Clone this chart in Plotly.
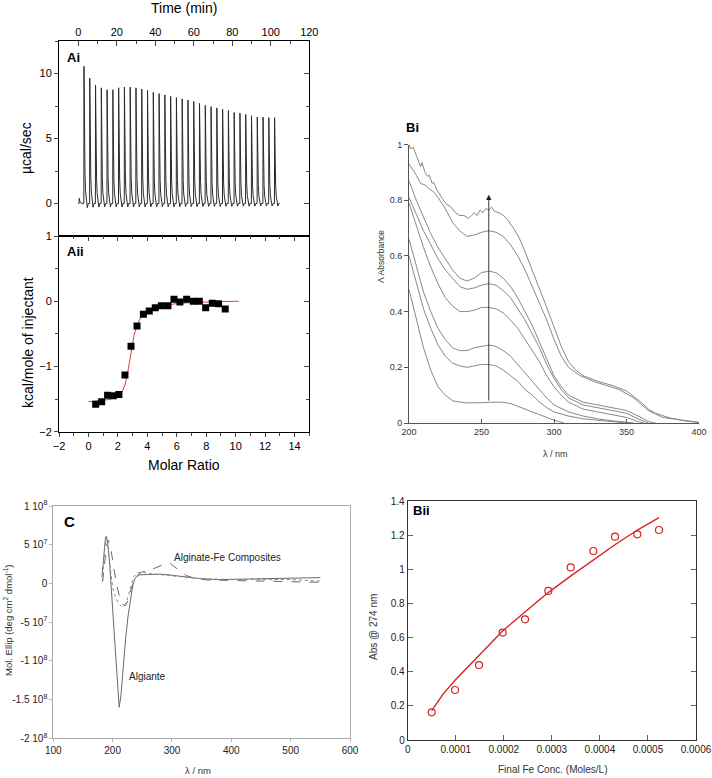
import plotly.graph_objects as go

W, H = 712, 778

# ── Ai: raw ITC thermogram ────────────────────────────────────
FIRST_INJ_TIME = 0.4
FIRST_INJ_PEAK = 0.4
INJ_TIMES = [2.9, 5.9, 8.9, 11.9, 14.9, 17.9, 20.9, 23.9, 26.9, 29.9,
             32.9, 35.9, 38.9, 41.9, 44.9, 47.9, 50.9, 53.9, 56.9, 59.9,
             62.9, 65.9, 68.9, 71.9, 74.9, 77.9, 80.9, 83.9, 86.9, 89.9,
             92.9, 95.9, 98.9, 101.9]
INJ_PEAKS = [10.55, 9.65, 9.1, 8.9, 8.75, 8.75, 8.9, 8.95, 8.95, 8.9,
             8.8, 8.7, 8.55, 8.45, 8.35, 8.25, 8.15, 8.05, 7.95, 7.85,
             7.7, 7.55, 7.45, 7.35, 7.25, 7.15, 7.0, 6.95, 6.85, 6.75,
             6.65, 6.65, 6.6, 6.6]
# shape of one injection peak (minutes after start, fraction of peak)
PEAK_DT = [0.0, 0.08, 0.3, 0.6, 0.9, 1.3, 1.8, 2.3]
PEAK_REL = [0.0, 1.0, 0.5, 0.22, 0.09, 0.03, -0.03, 0.0]
BASE_START, BASE_END = 0.0, 104.7

# ── Aii: integrated heats ─────────────────────────────────────
MOLAR = [0.49, 0.90, 1.30, 1.69, 2.07, 2.48, 2.89, 3.30, 3.73, 4.13, 4.54,
         4.95, 5.40, 5.81, 6.21, 6.67, 7.12, 7.53, 7.96, 8.41, 8.84, 9.29]
HEAT = [-1.58, -1.54, -1.44, -1.45, -1.43, -1.13, -0.69, -0.38, -0.20, -0.15,
        -0.10, -0.07, -0.07, 0.03, -0.01, 0.03, 0.0, 0.0, -0.10, -0.03, -0.04, -0.12]
FIT_X = [0.0, 0.5, 1.0, 1.5, 2.0, 2.3, 2.5, 2.7, 2.9, 3.1, 3.3, 3.6, 4.0,
         4.5, 5.0, 6.0, 7.0, 8.0, 9.0, 10.2]
FIT_Y = [-1.54, -1.535, -1.52, -1.5, -1.45, -1.38, -1.27, -1.05, -0.78, -0.52,
         -0.36, -0.23, -0.15, -0.10, -0.07, -0.035, -0.02, -0.01, -0.005, 0.0]

# ── Bi: UV-vis spectra ───────────────────────────────────────
S1_X = [200, 201, 203, 205, 206, 208, 209, 211, 213, 214, 216, 217, 219, 220,
        223, 226, 229, 232, 235, 238, 241, 243, 245, 247, 249, 251, 253, 255,
        257, 259, 262, 265, 268, 272, 276, 280, 285, 290, 295, 300, 305, 310,
        315, 320, 330, 340, 350, 355, 360, 365, 370, 380, 390, 400]
S1_Y = [1.0, 0.985, 0.99, 0.96, 0.95, 0.92, 0.935, 0.9, 0.885, 0.89, 0.86,
        0.865, 0.84, 0.83, 0.805, 0.785, 0.775, 0.755, 0.745, 0.745, 0.735,
        0.745, 0.755, 0.745, 0.765, 0.755, 0.77, 0.765, 0.775, 0.76, 0.755,
        0.745, 0.73, 0.70, 0.665, 0.615, 0.55, 0.485, 0.415, 0.345, 0.275,
        0.22, 0.19, 0.17, 0.15, 0.135, 0.115, 0.095, 0.075, 0.05, 0.035,
        0.018, 0.008, 0.002]
S2_X = [200, 202, 205, 208, 211, 214, 217, 220, 225, 230, 235, 240, 245, 250,
        255, 260, 265, 270, 275, 280, 285, 290, 295, 300, 305, 310, 318, 327,
        336, 345, 355, 365, 375, 390, 400]
S2_Y = [0.93, 0.915, 0.89, 0.86, 0.855, 0.84, 0.83, 0.81, 0.77, 0.72, 0.69,
        0.67, 0.675, 0.685, 0.69, 0.685, 0.67, 0.64, 0.60, 0.55, 0.49, 0.43,
        0.37, 0.30, 0.24, 0.20, 0.17, 0.15, 0.135, 0.12, 0.09, 0.045, 0.02,
        0.008, 0.002]
S3_X = [200, 205, 210, 215, 220, 225, 230, 235, 240, 245, 250, 255, 260, 265,
        270, 275, 280, 285, 290, 295, 300, 305, 310, 320, 330, 340, 350, 360,
        365, 370]
S3_Y = [0.87, 0.80, 0.74, 0.68, 0.63, 0.59, 0.55, 0.52, 0.51, 0.52, 0.54,
        0.545, 0.54, 0.52, 0.49, 0.45, 0.40, 0.35, 0.29, 0.23, 0.17, 0.13,
        0.10, 0.075, 0.065, 0.055, 0.045, 0.02, 0.005, 0.0]
S4_X = [200, 205, 210, 215, 220, 225, 230, 235, 240, 245, 250, 255, 260, 265,
        270, 275, 280, 285, 290, 295, 300, 305, 310, 320, 330, 340, 350, 360, 365]
S4_Y = [0.81, 0.75, 0.69, 0.64, 0.59, 0.55, 0.52, 0.49, 0.48, 0.485, 0.495,
        0.50, 0.495, 0.475, 0.45, 0.41, 0.37, 0.32, 0.27, 0.21, 0.16, 0.12,
        0.09, 0.065, 0.055, 0.045, 0.035, 0.01, 0.0]
S5_X = [200, 205, 210, 215, 220, 225, 230, 235, 240, 245, 250, 255, 260, 265,
        270, 275, 280, 285, 290, 295, 300, 305, 310, 320, 330, 340, 350, 358, 362]
S5_Y = [0.79, 0.71, 0.63, 0.56, 0.50, 0.45, 0.42, 0.40, 0.40, 0.405, 0.415,
        0.415, 0.41, 0.395, 0.37, 0.34, 0.30, 0.26, 0.22, 0.17, 0.13, 0.10,
        0.075, 0.05, 0.04, 0.03, 0.02, 0.005, 0.0]
S6_X = [200, 205, 210, 215, 220, 225, 230, 235, 240, 245, 250, 255, 260, 265,
        270, 275, 280, 285, 290, 295, 300, 310, 320, 330, 340, 350, 355]
S6_Y = [0.66, 0.56, 0.47, 0.40, 0.34, 0.30, 0.27, 0.26, 0.26, 0.27, 0.275,
        0.28, 0.275, 0.26, 0.24, 0.21, 0.18, 0.15, 0.12, 0.09, 0.065, 0.04,
        0.025, 0.015, 0.008, 0.002, 0.0]
S7_X = [200, 205, 210, 215, 220, 225, 230, 235, 240, 245, 250, 255, 260, 265,
        270, 275, 280, 285, 290, 295, 300, 310, 320, 330, 340, 350]
S7_Y = [0.60, 0.50, 0.41, 0.34, 0.28, 0.24, 0.215, 0.205, 0.20, 0.205, 0.21,
        0.21, 0.205, 0.19, 0.17, 0.15, 0.12, 0.10, 0.075, 0.055, 0.04, 0.025,
        0.015, 0.01, 0.005, 0.0]
S8_X = [200, 205, 210, 215, 220, 225, 230, 235, 240, 250, 255, 260, 265, 270,
        275, 280, 285, 290, 295, 300, 305, 307]
S8_Y = [0.48, 0.37, 0.27, 0.19, 0.13, 0.10, 0.08, 0.075, 0.072, 0.073, 0.075,
        0.075, 0.074, 0.07, 0.06, 0.05, 0.04, 0.03, 0.02, 0.01, 0.003, 0.0]
ARROW_X, ARROW_Y0, ARROW_Y1 = 255, 0.075, 0.82

# ── C: CD spectra ────────────────────────────────────────────
ALG_X = [182, 184, 186, 188, 189.5, 192, 195, 198, 202, 205, 208, 211, 214,
         218, 222, 226, 230, 234, 238, 245, 260, 280, 295, 310, 330, 350, 380,
         420, 460, 500, 530, 550]
ALG_Y = [0.8e7, 2.5e7, 4.8e7, 6.0e7, 6.1e7, 5.0e7, 2.5e7, -1e7, -5e7, -9e7,
         -1.3e8, -1.6e8, -1.45e8, -1.05e8, -7e7, -4.2e7, -2e7, -0.2e7, 0.7e7,
         1.1e7, 1.15e7, 1.2e7, 1.1e7, 0.95e7, 0.75e7, 0.6e7, 0.5e7, 0.55e7,
         0.6e7, 0.7e7, 0.7e7, 0.75e7]
FE_X = [183, 186, 190, 193, 197, 202, 207, 212, 217, 221, 226, 231, 236, 242,
        250, 260, 270, 280, 290, 297, 305, 315, 325, 340, 360, 400, 450, 500, 550]
FE_Y = [0.2e7, 2.5e7, 5.0e7, 5.6e7, 4.5e7, 2.0e7, -0.3e7, -1.8e7, -2.7e7,
        -2.9e7, -2.2e7, -0.8e7, 0.3e7, 1.1e7, 1.5e7, 1.6e7, 1.9e7, 2.3e7,
        2.6e7, 2.6e7, 2.1e7, 1.5e7, 1.0e7, 0.6e7, 0.45e7, 0.4e7, 0.35e7,
        0.25e7, 0.15e7]
FE2_X = [183, 186, 189, 192, 196, 200, 205, 210, 215, 220, 225, 230, 235, 242,
         250, 258, 270, 290, 320, 350, 400, 450, 500, 550]
FE2_Y = [0.3e7, 4.0e7, 6.0e7, 5.0e7, 2.0e7, -0.5e7, -1.8e7, -2.6e7, -3.0e7,
         -2.9e7, -2.0e7, -0.5e7, 0.8e7, 1.4e7, 1.5e7, 1.3e7, 1.2e7, 1.1e7,
         0.8e7, 0.6e7, 0.5e7, 0.5e7, 0.5e7, 0.3e7]
C_YTICKS = [1e8, 5e7, 0, -5e7, -1e8, -1.5e8, -2e8]
C_YTEXT = ['1 10<sup>8</sup>', '5 10<sup>7</sup>', '0', '-5 10<sup>7</sup>',
           '-1 10<sup>8</sup>', '-1.5 10<sup>8</sup>', '-2 10<sup>8</sup>']

# ── Bii: absorbance vs Fe concentration ──────────────────────
FE_CONC = [0.0000499, 0.0000985, 0.0001484, 0.0001977, 0.0002442, 0.0002927,
           0.0003392, 0.0003864, 0.0004315, 0.0004779, 0.0005230]
ABS274 = [0.162, 0.293, 0.439, 0.629, 0.707, 0.873, 1.011, 1.107, 1.191,
          1.205, 1.230]
BFIT_X = [0.00005, 0.000074, 0.0000985, 0.000148, 0.000198, 0.000244,
          0.000293, 0.000339, 0.000386, 0.000432, 0.000478, 0.000523]
BFIT_Y = [0.172, 0.27, 0.35, 0.495, 0.64, 0.75, 0.865, 0.96, 1.055, 1.145,
          1.23, 1.302]
BII_XTICKS = [0, 0.0001, 0.0002, 0.0003, 0.0004, 0.0005, 0.0006]
BII_XTEXT = ['0', '0.0001', '0.0002', '0.0003', '0.0004', '0.0005', '0.0006']

FONT = 'Liberation Sans, Arial, sans-serif'
RED = '#d62424'
TICKBLUE = '#5a5aa8'


def dom_x(a, b):
    return [a / W, b / W]


def dom_y(top, bottom):
    return [1 - bottom / H, 1 - top / H]


# build the thermogram trace from the injection list
tx, ty = [BASE_START], [0.0]
for t, h in [(FIRST_INJ_TIME, FIRST_INJ_PEAK)] + list(zip(INJ_TIMES, INJ_PEAKS)):
    for dt, r in zip(PEAK_DT, PEAK_REL):
        tx.append(t + dt)
        ty.append(h * r)
tx.append(BASE_END)
ty.append(0.0)

fig = go.Figure()

fig.add_trace(go.Scatter(x=tx, y=ty, mode='lines', xaxis='x', yaxis='y',
                         line=dict(color='#2a2a2a', width=1), showlegend=False))
fig.add_trace(go.Scatter(x=[None], y=[None], xaxis='x', yaxis='y6', showlegend=False))

fig.add_trace(go.Scatter(x=FIT_X, y=FIT_Y, mode='lines', xaxis='x2', yaxis='y2',
                         line=dict(color='#e04040', width=1), showlegend=False))
fig.add_trace(go.Scatter(x=MOLAR, y=HEAT, mode='markers', xaxis='x2', yaxis='y2',
                         marker=dict(symbol='square', size=7, color='black'),
                         showlegend=False))
fig.add_trace(go.Scatter(x=[None], y=[None], xaxis='x6', yaxis='y2', showlegend=False))
fig.add_trace(go.Scatter(x=[None], y=[None], xaxis='x2', yaxis='y7', showlegend=False))

for sx, sy in [(S1_X, S1_Y), (S2_X, S2_Y), (S3_X, S3_Y), (S4_X, S4_Y),
               (S5_X, S5_Y), (S6_X, S6_Y), (S7_X, S7_Y), (S8_X, S8_Y)]:
    fig.add_trace(go.Scatter(x=sx, y=sy, mode='lines', xaxis='x3', yaxis='y3',
                             line=dict(color='#7a7a7a', width=0.9), showlegend=False))

fig.add_trace(go.Scatter(x=ALG_X, y=ALG_Y, mode='lines', xaxis='x4', yaxis='y4',
                         line=dict(color='#6a6a6a', width=1), showlegend=False))
fig.add_trace(go.Scatter(x=FE_X, y=FE_Y, mode='lines', xaxis='x4', yaxis='y4',
                         line=dict(color='#6a6a6a', width=1, dash='dash'),
                         showlegend=False))
fig.add_trace(go.Scatter(x=FE2_X, y=FE2_Y, mode='lines', xaxis='x4', yaxis='y4',
                         line=dict(color='#8a8a8a', width=1, dash='dot'),
                         showlegend=False))

fig.add_trace(go.Scatter(x=BFIT_X, y=BFIT_Y, mode='lines', xaxis='x5', yaxis='y5',
                         line=dict(color=RED, width=1.4), showlegend=False))
fig.add_trace(go.Scatter(x=FE_CONC, y=ABS274, mode='markers', xaxis='x5', yaxis='y5',
                         marker=dict(symbol='circle-open', size=7, color=RED,
                                     line=dict(width=1.2, color=RED)),
                         showlegend=False))

tickfont_a = dict(family=FONT, size=11, color='black')
base = dict(showgrid=False, zeroline=False, automargin=False)

ai_x = dom_x(59, 309.3)
ai_y = dom_y(41, 236)
aii_y = dom_y(236, 431.7)

fig.update_layout(
    width=W, height=H,
    margin=dict(l=0, r=0, t=0, b=0, autoexpand=False),
    paper_bgcolor='white', plot_bgcolor='white',
    font=dict(family=FONT),
    # Ai
    xaxis=dict(base, domain=ai_x, anchor='y', side='top', range=[-10, 120],
               tickvals=[0, 20, 40, 60, 80, 100, 120], ticks='inside', ticklen=5,
               minor=dict(ticks='inside', ticklen=3, dtick=10, tick0=0),
               showline=True, mirror=True, linecolor='black', linewidth=1,
               tickfont=tickfont_a),
    yaxis=dict(base, domain=ai_y, anchor='x', range=[-2.5, 12.5],
               tickvals=[0, 5, 10], ticks='outside', ticklen=4,
               minor=dict(ticks='outside', ticklen=3, dtick=2.5, tick0=0),
               showline=True, mirror=True, linecolor='black', linewidth=1,
               tickfont=tickfont_a),
    yaxis6=dict(base, overlaying='y', side='right', anchor='x', range=[-2.5, 12.5],
                tickvals=[0, 5, 10], ticks='inside', ticklen=5, showticklabels=False,
                minor=dict(ticks='inside', ticklen=3, dtick=2.5, tick0=0),
                showline=False),
    # Aii
    xaxis2=dict(base, domain=ai_x, anchor='y2', range=[-2, 15],
                tickvals=[-2, 0, 2, 4, 6, 8, 10, 12, 14], ticks='outside', ticklen=4,
                minor=dict(ticks='outside', ticklen=3, dtick=1, tick0=0),
                showline=True, mirror=True, linecolor='black', linewidth=1,
                tickfont=tickfont_a),
    xaxis6=dict(base, overlaying='x2', side='top', anchor='y2', range=[-2, 15],
                tickvals=[-2, 0, 2, 4, 6, 8, 10, 12, 14], ticks='inside', ticklen=5,
                minor=dict(ticks='inside', ticklen=3, dtick=1, tick0=0),
                showticklabels=False, showline=False),
    yaxis2=dict(base, domain=aii_y, anchor='x2', range=[-2, 1],
                tickvals=[-2, -1, 0, 1], ticks='outside', ticklen=4,
                minor=dict(ticks='outside', ticklen=3, dtick=0.5, tick0=0),
                showline=True, mirror=True, linecolor='black', linewidth=1,
                tickfont=tickfont_a),
    yaxis7=dict(base, overlaying='y2', side='right', anchor='x2', range=[-2, 1],
                tickvals=[-2, -1, 0, 1], ticks='inside', ticklen=5,
                minor=dict(ticks='inside', ticklen=3, dtick=0.5, tick0=0),
                showticklabels=False, showline=False),
    # Bi
    xaxis3=dict(base, domain=dom_x(409, 699), anchor='y3', range=[200, 400],
                tickvals=[200, 250, 300, 350, 400], ticks='inside', ticklen=4,
                tickcolor='#555', showline=True, linecolor='#555', linewidth=1,
                tickfont=dict(family=FONT, size=9, color='#333')),
    yaxis3=dict(base, domain=dom_y(144.5, 423), anchor='x3', range=[0, 1],
                tickvals=[0, 0.2, 0.4, 0.6, 0.8, 1], ticks='outside', ticklen=4,
                tickcolor='#555', showline=True, linecolor='#555', linewidth=1,
                tickfont=dict(family=FONT, size=9, color='#333')),
    # C
    xaxis4=dict(base, domain=dom_x(53.3, 350), anchor='y4', range=[100, 600],
                tickvals=[100, 200, 300, 400, 500, 600], ticks='outside', ticklen=3,
                tickcolor='#bbb', showline=True, mirror=True, linecolor='#aaa',
                linewidth=1, tickfont=dict(family=FONT, size=10, color='#222')),
    yaxis4=dict(base, domain=dom_y(506, 738.3), anchor='x4', range=[-2e8, 1e8],
                tickvals=C_YTICKS, ticktext=C_YTEXT, ticks='outside', ticklen=3,
                tickcolor='#bbb', showline=True, mirror=True, linecolor='#aaa',
                linewidth=1, tickfont=dict(family=FONT, size=10, color='#222')),
    # Bii
    xaxis5=dict(base, domain=dom_x(407.7, 696), anchor='y5', range=[0, 0.0006],
                tickvals=BII_XTICKS, ticktext=BII_XTEXT, ticks='inside', ticklen=5,
                tickcolor=TICKBLUE, showline=True, mirror=True, linecolor='#333',
                linewidth=1, tickfont=dict(family=FONT, size=10, color='#222')),
    yaxis5=dict(base, domain=dom_y(501, 740), anchor='x5', range=[0, 1.4],
                tickvals=[0, 0.2, 0.4, 0.6, 0.8, 1, 1.2, 1.4], ticks='inside', ticklen=5,
                tickcolor=TICKBLUE, showline=True, mirror='ticks', linecolor='#333',
                linewidth=1, tickfont=dict(family=FONT, size=10, color='#222')),
)

fig.add_annotation(x=ARROW_X, y=ARROW_Y1, ax=ARROW_X, ay=ARROW_Y0,
                   xref='x3', yref='y3', axref='x3', ayref='y3',
                   showarrow=True, arrowhead=2, arrowsize=1.2, arrowwidth=0.9,
                   arrowcolor='#222', text='')


def label(text, x, y, size, color='black', bold=False, angle=0, xanchor='center'):
    if bold:
        text = '<b>' + text + '</b>'
    fig.add_annotation(text=text, x=x / W, y=1 - y / H, xref='paper', yref='paper',
                       showarrow=False, textangle=angle, xanchor=xanchor,
                       yanchor='middle', font=dict(family=FONT, size=size, color=color))


# axis titles
label('Time (min)', 184, 8, 14)
label('µcal/sec', 26, 148, 14, angle=-90)
label('kcal/mole of injectant', 28, 343, 14, angle=-90)
label('Molar Ratio', 184, 465, 14)
label('Λ Absorbance', 381, 257, 8.5, color='#333', angle=-90)
label('λ / nm', 555, 454, 9, color='#333')
label('Mol. Ellip (deg cm<sup>2</sup> dmol<sup>-1</sup>)', 8, 620, 9.5, color='#333',
      angle=-90)
label('λ / nm', 198, 770, 9.5, color='#333')
label('Abs @ 274 nm', 373, 627, 10, color='#333', angle=-90)
label('Final Fe Conc. (Moles/L)', 552, 769, 10, color='#333')

# panel tags
label('Ai', 65, 57, 13, bold=True, xanchor='left')
label('Aii', 65, 252, 13, bold=True, xanchor='left')
label('Bi', 404, 127, 13, bold=True, xanchor='left')
label('C', 62, 521, 15, bold=True, xanchor='left')
label('Bii', 411, 510, 13, bold=True, xanchor='left')

# curve labels in C
label('Alginate-Fe Composites', 172, 557, 10, color='#222', xanchor='left')
label('Algiante', 127, 676, 10, color='#222', xanchor='left')

# the page body has a default 8px margin; drop it so the figure sits at (0, 0)
fig.write_html("out.html", config={'displayModeBar': False},
               post_script="document.body.style.margin = '0';")
